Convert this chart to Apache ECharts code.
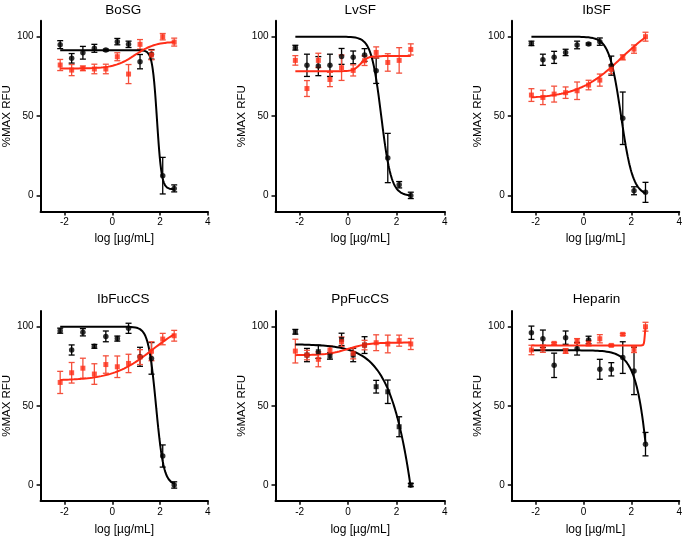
<!DOCTYPE html>
<html><head><meta charset="utf-8">
<script src="https://cdn.jsdelivr.net/npm/echarts@6/dist/echarts.min.js"></script>
<style>html,body{margin:0;padding:0;background:#fff}#c{width:685px;height:540px}</style>
</head><body><div id="c"></div><script>
// ---------- data ----------
const logDose = [-2.18, -1.70, -1.23, -0.75, -0.27, 0.21, 0.68, 1.16, 1.64, 2.11, 2.59];
const panelTitles = ['BoSG', 'LvSF', 'IbSF', 'IbFucCS', 'PpFucCS', 'Heparin'];
const xTicks = [-2, 0, 2, 4];
const yTicks = [0, 50, 100];
const xAxisName = 'log [µg/mL]';
const yAxisName = '%MAX RFU';

// fit parameters: [bottom, top, logEC50, hillSlope]
const boSGBlack    = [95.0, 86.4, 89.9, 92.7, 91.6, 96.9, 95.2, 84.3, 88.9, 12.6, 4.6];
const boSGBlackErr = [2.5, 3.0, 4.0, 2.5, 0.6, 2.0, 2.0, 4.5, 3.0, 11.5, 2.2];
const boSGBlackFit = [4, 91.5, 1.87, -4.5];
const boSGRed      = [82.2, 79.0, 80.1, 79.7, 79.7, 87.4, 76.5, 95.2, 88.5, 100.0, 96.6];
const boSGRedErr   = [3.5, 3.5, 1.5, 3.0, 3.0, 2.5, 6.0, 3.0, 3.0, 2.0, 2.5];
const boSGRedFit   = [80, 97, 0.95, 1.0];

const lvSFBlack    = [93.1, 82.0, 81.5, 82.0, 87.6, 87.0, 88.5, 78.6, 23.7, 6.9, 0.2];
const lvSFBlackErr = [1.5, 7.0, 6.0, 7.0, 5.0, 4.0, 4.0, 8.0, 15.5, 2.0, 2.0];
const lvSFBlackFit = [0, 100, 1.37, -2.1];
const lvSFRed      = [85.1, 67.4, 85.1, 73.1, 80.5, 78.8, 84.9, 90.1, 83.8, 85.1, 92.0];
const lvSFRedErr   = [3.0, 5.0, 4.5, 4.5, 8.0, 3.5, 3.0, 3.5, 5.5, 8.0, 3.5];
const lvSFRedFit   = [78.3, 87.8, 0.52, 3.0];

const ibSFBlack    = [95.8, 85.5, 87.0, 90.1, 94.8, 95.4, 96.9, 81.8, 48.7, 3.1, 2.1];
const ibSFBlackErr = [1.4, 3.5, 3.8, 2.0, 2.4, 0.6, 2.3, 6.0, 16.5, 2.5, 6.3];
const ibSFBlackFit = [0, 100, 1.57, -1.75];
const ibSFRed      = [63.3, 61.8, 63.9, 64.8, 66.0, 69.6, 72.7, 79.5, 87.0, 92.2, 100.0];
const ibSFRedErr   = [4.0, 4.5, 5.0, 3.6, 5.5, 3.0, 3.8, 2.8, 1.6, 2.6, 2.8];
const ibSFRedFit   = [61, 112.8, 1.6, 0.47];

const ibFucCSBlack    = [97.5, 85.3, 96.5, 87.6, 93.9, 92.5, 99.0, 81.0, 80.0, 18.3, 0.0];
const ibFucCSBlackErr = [1.6, 3.2, 2.3, 1.2, 3.4, 1.6, 3.2, 6.0, 10.0, 7.0, 2.0];
const ibFucCSBlackFit = [0, 100, 1.83, -2.7];
const ibFucCSRed      = [64.8, 70.9, 73.8, 70.1, 76.1, 74.7, 76.8, 80.8, 84.5, 92.2, 94.3];
const ibFucCSRedErr   = [7.0, 6.5, 6.3, 6.5, 5.5, 6.8, 5.8, 4.7, 6.0, 3.6, 3.4];
const ibFucCSRedFit   = [66, 105, 1.68, 0.52];

const ppFucCSBlack    = [96.8, 82.1, 84.2, 81.5, 92.0, 82.1, 88.4, 62.1, 58.9, 36.8, 0.0];
const ppFucCSBlackErr = [1.5, 4.2, 4.2, 2.0, 3.9, 4.2, 5.3, 4.0, 7.4, 6.3, 1.0];
const ppFucCSBlackFit = [-1000, 89, 4.45, -0.56];
const ppFucCSRed      = [84.6, 82.1, 79.4, 85.3, 90.5, 83.2, 88.4, 89.9, 89.1, 91.2, 89.1];
const ppFucCSRedErr   = [7.5, 3.0, 4.7, 2.5, 3.0, 3.5, 3.0, 5.0, 5.6, 3.5, 3.5];
const ppFucCSRedFit   = [82, 90, 0, 1.0];

const heparinBlack    = [96.2, 92.4, 75.6, 93.1, 86.1, 91.6, 73.1, 73.1, 80.5, 72.1, 25.8];
const heparinBlackErr = [4.2, 5.5, 7.7, 4.2, 4.0, 2.4, 6.3, 4.2, 10.0, 15.0, 7.4];
const heparinBlackFit = [-1000, 85.1, 3.67, -1.15];
const heparinRed      = [85.3, 86.1, 89.5, 84.7, 91.0, 89.5, 92.4, 88.2, 95.2, 85.7, 100.0];
const heparinRedErr   = [3.0, 2.3, 0.6, 1.5, 1.5, 1.6, 2.6, 0.6, 0.6, 2.0, 2.8];
const heparinRedFit   = [88.2, 101, 2.56, 25];

// ---------- assembly ----------
const panels = [
  {black: boSGBlack, blackErr: boSGBlackErr, blackFit: boSGBlackFit, red: boSGRed, redErr: boSGRedErr, redFit: boSGRedFit, blackSym: 'circle'},
  {black: lvSFBlack, blackErr: lvSFBlackErr, blackFit: lvSFBlackFit, red: lvSFRed, redErr: lvSFRedErr, redFit: lvSFRedFit, blackSym: 'circle'},
  {black: ibSFBlack, blackErr: ibSFBlackErr, blackFit: ibSFBlackFit, red: ibSFRed, redErr: ibSFRedErr, redFit: ibSFRedFit, blackSym: 'circle'},
  {black: ibFucCSBlack, blackErr: ibFucCSBlackErr, blackFit: ibFucCSBlackFit, red: ibFucCSRed, redErr: ibFucCSRedErr, redFit: ibFucCSRedFit, blackSym: 'circle'},
  {black: ppFucCSBlack, blackErr: ppFucCSBlackErr, blackFit: ppFucCSBlackFit, red: ppFucCSRed, redErr: ppFucCSRedErr, redFit: ppFucCSRedFit, blackSym: 'rect'},
  {black: heparinBlack, blackErr: heparinBlackErr, blackFit: heparinBlackFit, red: heparinRed, redErr: heparinRedErr, redFit: heparinRedFit, blackSym: 'circle'}
];

const FONT = '"Liberation Sans", Arial, Helvetica, sans-serif';
const BLACK = '#000000';
const RED = '#ff2d17';
const RED_ERR = '#f4503c';
const lefts = [38.5, 275.5, 511.8];
const tops = [20.8, 310.9];
const GW = 169.4, GH = [190.8, 189.9];
const xNameGap = [21, 23];

function fourPL(p, x) {
  return p[0] + (p[1] - p[0]) / (1 + Math.pow(10, (p[2] - x) * p[3]));
}
function curve(p) {
  const x0 = logDose[0], x1 = logDose[logDose.length - 1], n = 600, out = [];
  for (let i = 0; i <= n; i++) { const x = x0 + (x1 - x0) * i / n; out.push([x, fourPL(p, x)]); }
  return out;
}
function errData(vals, errs) { return logDose.map((x, i) => [x, vals[i] - errs[i], vals[i] + errs[i]]); }
function pts(vals) { return logDose.map((x, i) => [x, vals[i]]); }
function errRender(color) {
  return function (params, api) {
    const x = api.value(0), lo = api.value(1), hi = api.value(2);
    const a = api.coord([x, hi]), b = api.coord([x, lo]);
    const w = 3;
    const st = {stroke: color, lineWidth: 1.3};
    return {type: 'group', children: [
      {type: 'line', shape: {x1: a[0], y1: a[1], x2: b[0], y2: b[1]}, style: st},
      {type: 'line', shape: {x1: a[0] - w, y1: a[1], x2: a[0] + w, y2: a[1]}, style: st},
      {type: 'line', shape: {x1: b[0] - w, y1: b[1], x2: b[0] + w, y2: b[1]}, style: st}
    ]};
  };
}

const grid = [], xAxis = [], yAxis = [], series = [], graphic = [];
panels.forEach((p, i) => {
  const row = Math.floor(i / 3), col = i % 3;
  grid.push({left: lefts[col], top: tops[row], width: GW, height: GH[row], containLabel: false});
  xAxis.push({
    type: 'value', gridIndex: i, min: -3, max: 4,
    name: xAxisName, nameLocation: 'middle', nameGap: xNameGap[row],
    nameTextStyle: {fontFamily: FONT, fontSize: 12, color: BLACK},
    axisLine: {onZero: false, lineStyle: {color: BLACK, width: 2}},
    axisTick: {show: true, length: 4, customValues: xTicks, lineStyle: {color: BLACK, width: 1.5}},
    axisLabel: {customValues: xTicks, fontFamily: FONT, fontSize: 10, color: BLACK, margin: 6},
    splitLine: {show: false}
  });
  yAxis.push({
    type: 'value', gridIndex: i, min: -10, max: 110,
    name: yAxisName, nameLocation: 'middle', nameGap: 26.5,
    nameTextStyle: {fontFamily: FONT, fontSize: 11.5, color: BLACK},
    axisLine: {show: true, onZero: false, lineStyle: {color: BLACK, width: 2}},
    axisTick: {show: true, length: 4, customValues: yTicks, lineStyle: {color: BLACK, width: 1.5}},
    axisLabel: {customValues: yTicks, fontFamily: FONT, fontSize: 10, color: BLACK, margin: 7},
    splitLine: {show: false}
  });
  graphic.push({
    type: 'text', x: lefts[col] + GW / 2, y: row === 0 ? 10 : 299.5,
    style: {text: panelTitles[i], font: '13.5px ' + FONT, fill: BLACK, align: 'center', verticalAlign: 'middle'}
  });
  // black
  series.push({type: 'custom', xAxisIndex: i, yAxisIndex: i, renderItem: errRender(BLACK),
    data: errData(p.black, p.blackErr), encode: {x: 0, y: [1, 2]}, z: 2, silent: true});
  series.push({type: 'line', xAxisIndex: i, yAxisIndex: i, data: curve(p.blackFit), showSymbol: false,
    lineStyle: {color: BLACK, width: 2}, z: 3, silent: true});
  series.push({type: 'scatter', xAxisIndex: i, yAxisIndex: i, data: pts(p.black), symbol: p.blackSym,
    symbolSize: p.blackSym === 'rect' ? 5 : 5.5, itemStyle: {color: BLACK}, z: 4, silent: true});
  // red
  series.push({type: 'custom', xAxisIndex: i, yAxisIndex: i, renderItem: errRender(RED_ERR),
    data: errData(p.red, p.redErr), encode: {x: 0, y: [1, 2]}, z: 2, silent: true});
  series.push({type: 'line', xAxisIndex: i, yAxisIndex: i, data: curve(p.redFit), showSymbol: false,
    lineStyle: {color: RED, width: 2}, z: 3, silent: true});
  series.push({type: 'scatter', xAxisIndex: i, yAxisIndex: i, data: pts(p.red), symbol: 'rect',
    symbolSize: 5, itemStyle: {color: RED}, z: 4, silent: true});
});

const chart = echarts.init(document.getElementById('c'), null, {renderer: 'canvas'});
chart.setOption({animation: false, backgroundColor: '#ffffff', grid, xAxis, yAxis, series, graphic});
</script></body></html>
